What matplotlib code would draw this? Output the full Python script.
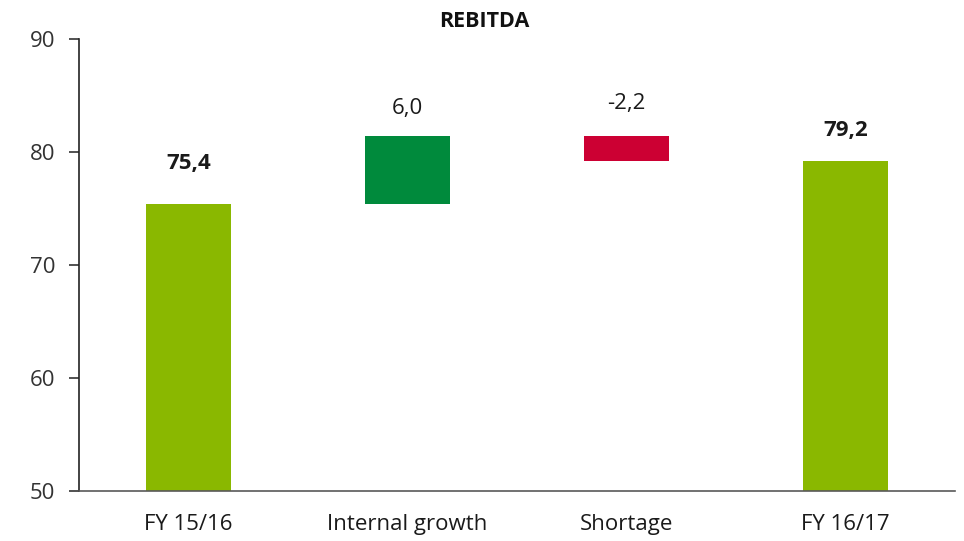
import matplotlib
matplotlib.use("Agg")
import matplotlib.pyplot as plt

categories = ["FY 15/16", "Internal growth", "Shortage", "FY 16/17"]
values = [75.4, 6.0, -2.2, 79.2]
kinds = ["total", "delta", "delta", "total"]
labels = ["75,4", "6,0", "-2,2", "79,2"]
label_bold = [True, False, False, True]
colors = ["#8AB800", "#008A3C", "#CC0033", "#8AB800"]
y_ticks = [50, 60, 70, 80, 90]

plt.rcParams['font.family'] = ['Open Sans', 'DejaVu Sans']

fig = plt.figure(figsize=(9.64, 5.41), dpi=100)
ax = fig.add_axes([0.082, 0.0915, 0.9087, 0.8365])

bottoms, heights, tops = [], [], []
run = 0.0
for v, k in zip(values, kinds):
    if k == "total":
        b, h = 0.0, v
        run = v
    else:
        b, h = run, v
        run = run + v
    bottoms.append(b)
    heights.append(h)
    tops.append(max(b, b + h))

x = list(range(len(categories)))
ax.bar(x, heights, bottom=bottoms, width=0.39, color=colors)

offsets = [29.5, 20, 23.5, 22]
for xi, t, lab, bold, off in zip(x, tops, labels, label_bold, offsets):
    ax.annotate(lab, (xi, t), xytext=(0, off), textcoords="offset points",
                ha="center", va="center", fontsize=16,
                fontweight="bold" if bold else "normal", color="#1a1a1a")

ax.set_xlim(-0.5, 3.5)
ax.set_ylim(50, 90)
ax.set_yticks(y_ticks)
ax.set_xticks(x)
ax.set_xticklabels(categories)
ax.tick_params(axis="x", length=0, pad=16, labelsize=16, colors="#1a1a1a")
ax.tick_params(axis="y", length=7, width=1.2, pad=10, labelsize=16, colors="#333333", direction="out")
ax.spines["top"].set_visible(False)
ax.spines["right"].set_visible(False)
ax.spines["left"].set_color("#222222")
ax.spines["left"].set_linewidth(1.2)
ax.spines["bottom"].set_color("#595959")
ax.spines["bottom"].set_linewidth(1.2)

fig.text(0.502, 0.96, "REBITDA", ha="center", va="center", fontsize=15.5, fontweight="bold", color="#111111")

fig.savefig("out.png", dpi=100)
